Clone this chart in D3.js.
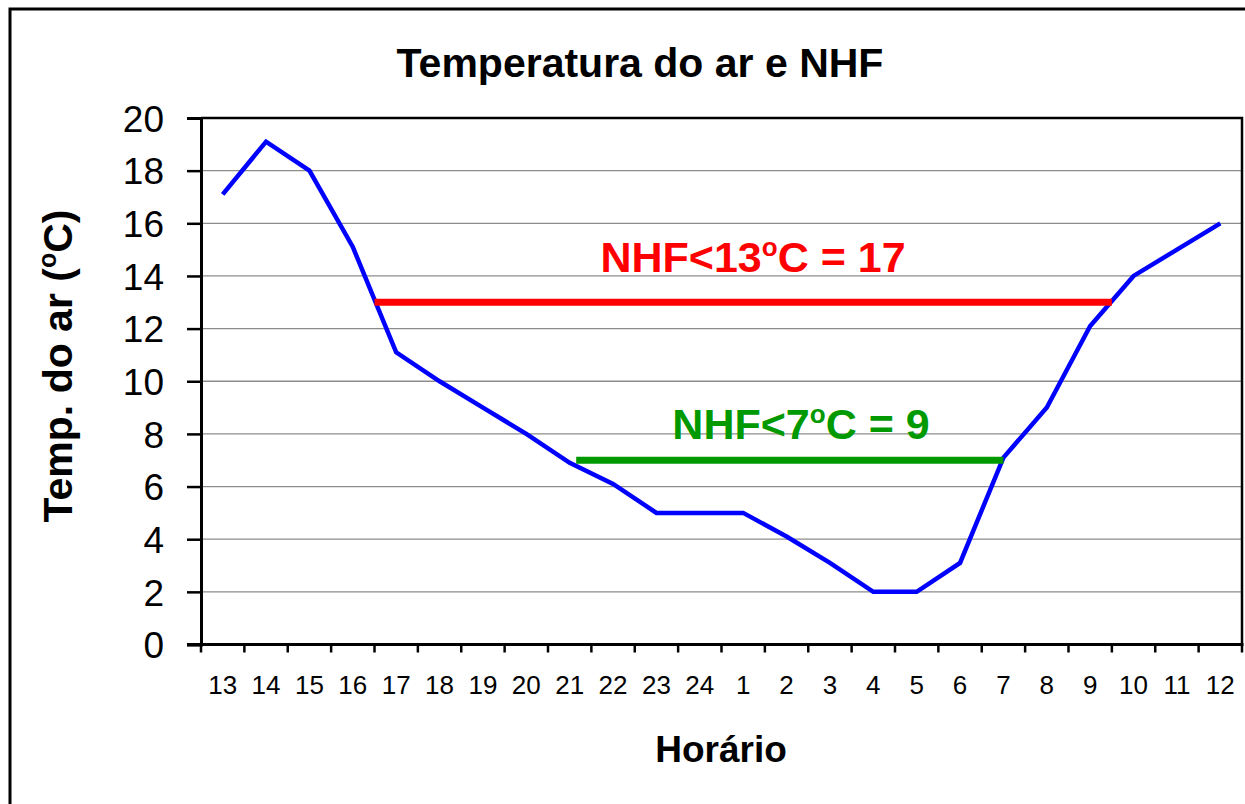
<!DOCTYPE html>
<html>
<head>
<meta charset="utf-8">
<script src="https://cdn.jsdelivr.net/npm/d3@7"></script>
<style>
  html, body { margin: 0; padding: 0; background: #fff; }
  svg { display: block; font-family: Arial, "Liberation Sans", sans-serif; }
</style>
</head>
<body>
<svg id="chart" width="1245" height="804"></svg>
<script>
// hours of the day, starting at 13h
var hours = ["13","14","15","16","17","18","19","20","21","22","23","24",
             "1","2","3","4","5","6","7","8","9","10","11","12"]

// air temperature (ºC)
var temps = [17.1, 19.1, 18, 15.1, 11.1, 10, 9, 8, 6.9, 6.1, 5, 5,
             5, 4.1, 3.1, 2, 2, 3.1, 7.1, 9, 12.1, 14, 15, 16]

var yTicks = [0, 2, 4, 6, 8, 10, 12, 14, 16, 18, 20]

// threshold bars: value, start / end (in hour index), label parts
var nhfThresholds = [13, 7]
var nhfStart = [3.5, 8.15]
var nhfEnd = [20.5, 18]
var nhfCounts = [17, 9]
var nhfColours = ["#ff0000", "#009900"]

var svg = d3.select("#chart")

// NB: "top" is taken by window.top, so use plot* names
var plotLeft = 201, plotRight = 1242, plotTop = 118, plotBottom = 644.5

// outer chart frame (right/bottom edges fall outside the picture)
svg.append("rect")
  .attr("x", 10).attr("y", 9)
  .attr("width", 1260).attr("height", 820)
  .attr("fill", "none").attr("stroke", "#000").attr("stroke-width", 3)

var x = d3.scaleBand().domain(hours).range([plotLeft, plotRight])
// continuous version of x, for positions between hours
var xi = d3.scaleLinear().domain([-0.5, hours.length - 0.5]).range([plotLeft, plotRight])
var y = d3.scaleLinear().domain([0, 20]).range([plotBottom, plotTop])

// gridlines
svg.append("g").selectAll("line")
  .data(yTicks.filter(function(d) { return d > 0 && d < 20 }))
  .enter().append("line")
  .attr("x1", plotLeft).attr("x2", plotRight)
  .attr("y1", function(d) { return y(d) }).attr("y2", function(d) { return y(d) })
  .attr("stroke", "#8c8c8c").attr("stroke-width", 1.3)

// top and right border of the plot area
svg.append("path")
  .attr("d", "M" + plotLeft + "," + plotTop + "H" + plotRight + "V" + plotBottom)
  .attr("fill", "none").attr("stroke", "#000").attr("stroke-width", 2.5)

// y axis
var yAxis = svg.append("g")
  .attr("transform", "translate(" + plotLeft + ",0)")
  .call(d3.axisLeft(y).tickValues(yTicks).tickSize(14).tickPadding(23))
yAxis.select(".domain").attr("stroke-width", 3)
yAxis.selectAll(".tick line").attr("stroke-width", 2.5)
yAxis.selectAll("text")
  .attr("font-size", 37).attr("font-family", "Arial, 'Liberation Sans', sans-serif")
  .attr("fill", "#000").attr("dy", "0.36em")

// x axis: ticks on the band edges, labels in the middle
var xAxis = svg.append("g")
xAxis.append("line")
  .attr("x1", plotLeft - 14).attr("x2", plotRight + 1.5)
  .attr("y1", plotBottom).attr("y2", plotBottom)
  .attr("stroke", "#000").attr("stroke-width", 3)
xAxis.selectAll(".xtick")
  .data(d3.range(hours.length + 1))
  .enter().append("line")
  .attr("class", "xtick")
  .attr("x1", function(i) { return xi(i - 0.5) }).attr("x2", function(i) { return xi(i - 0.5) })
  .attr("y1", plotBottom).attr("y2", plotBottom + 8)
  .attr("stroke", "#000").attr("stroke-width", 2.5)
xAxis.selectAll(".xlabel")
  .data(hours)
  .enter().append("text")
  .attr("class", "xlabel")
  .attr("x", function(d) { return x(d) + x.bandwidth() / 2 })
  .attr("y", 694)
  .attr("text-anchor", "middle")
  .attr("font-size", 26)
  .text(function(d) { return d })

// temperature line
var line = d3.line()
  .x(function(d, i) { return x(hours[i]) + x.bandwidth() / 2 })
  .y(function(d) { return y(d) })

svg.append("path")
  .datum(temps)
  .attr("d", line)
  .attr("fill", "none")
  .attr("stroke", "#0000ff")
  .attr("stroke-width", 4.5)
  .attr("stroke-linejoin", "miter")

// NHF threshold bars and their labels
var labelX = [753, 801]
var labelY = [272, 439]
nhfThresholds.forEach(function(t, k) {
  svg.append("line")
    .attr("x1", xi(nhfStart[k])).attr("x2", xi(nhfEnd[k]))
    .attr("y1", y(t)).attr("y2", y(t))
    .attr("stroke", nhfColours[k]).attr("stroke-width", 7)

  var lbl = svg.append("text")
    .attr("x", labelX[k]).attr("y", labelY[k])
    .attr("text-anchor", "middle")
    .attr("font-size", 43).attr("font-weight", "bold")
    .attr("fill", nhfColours[k])
  lbl.append("tspan").text("NHF<" + t)
  lbl.append("tspan").attr("font-size", 26).attr("dy", -16).text("o")
  lbl.append("tspan").attr("dy", 16).text("C = " + nhfCounts[k])
})

// titles
svg.append("text")
  .attr("x", 640).attr("y", 77)
  .attr("text-anchor", "middle")
  .attr("font-size", 41).attr("font-weight", "bold")
  .text("Temperatura do ar e NHF")

svg.append("text")
  .attr("x", 721).attr("y", 762)
  .attr("text-anchor", "middle")
  .attr("font-size", 37).attr("font-weight", "bold")
  .text("Horário")

var yTitle = svg.append("text")
  .attr("transform", "translate(72,366) rotate(-90)")
  .attr("text-anchor", "middle")
  .attr("font-size", 41).attr("font-weight", "bold")
yTitle.append("tspan").text("Temp. do ar (")
yTitle.append("tspan").attr("font-size", 25).attr("dy", -16).text("o")
yTitle.append("tspan").attr("dy", 16).text("C)")
</script>
</body>
</html>
